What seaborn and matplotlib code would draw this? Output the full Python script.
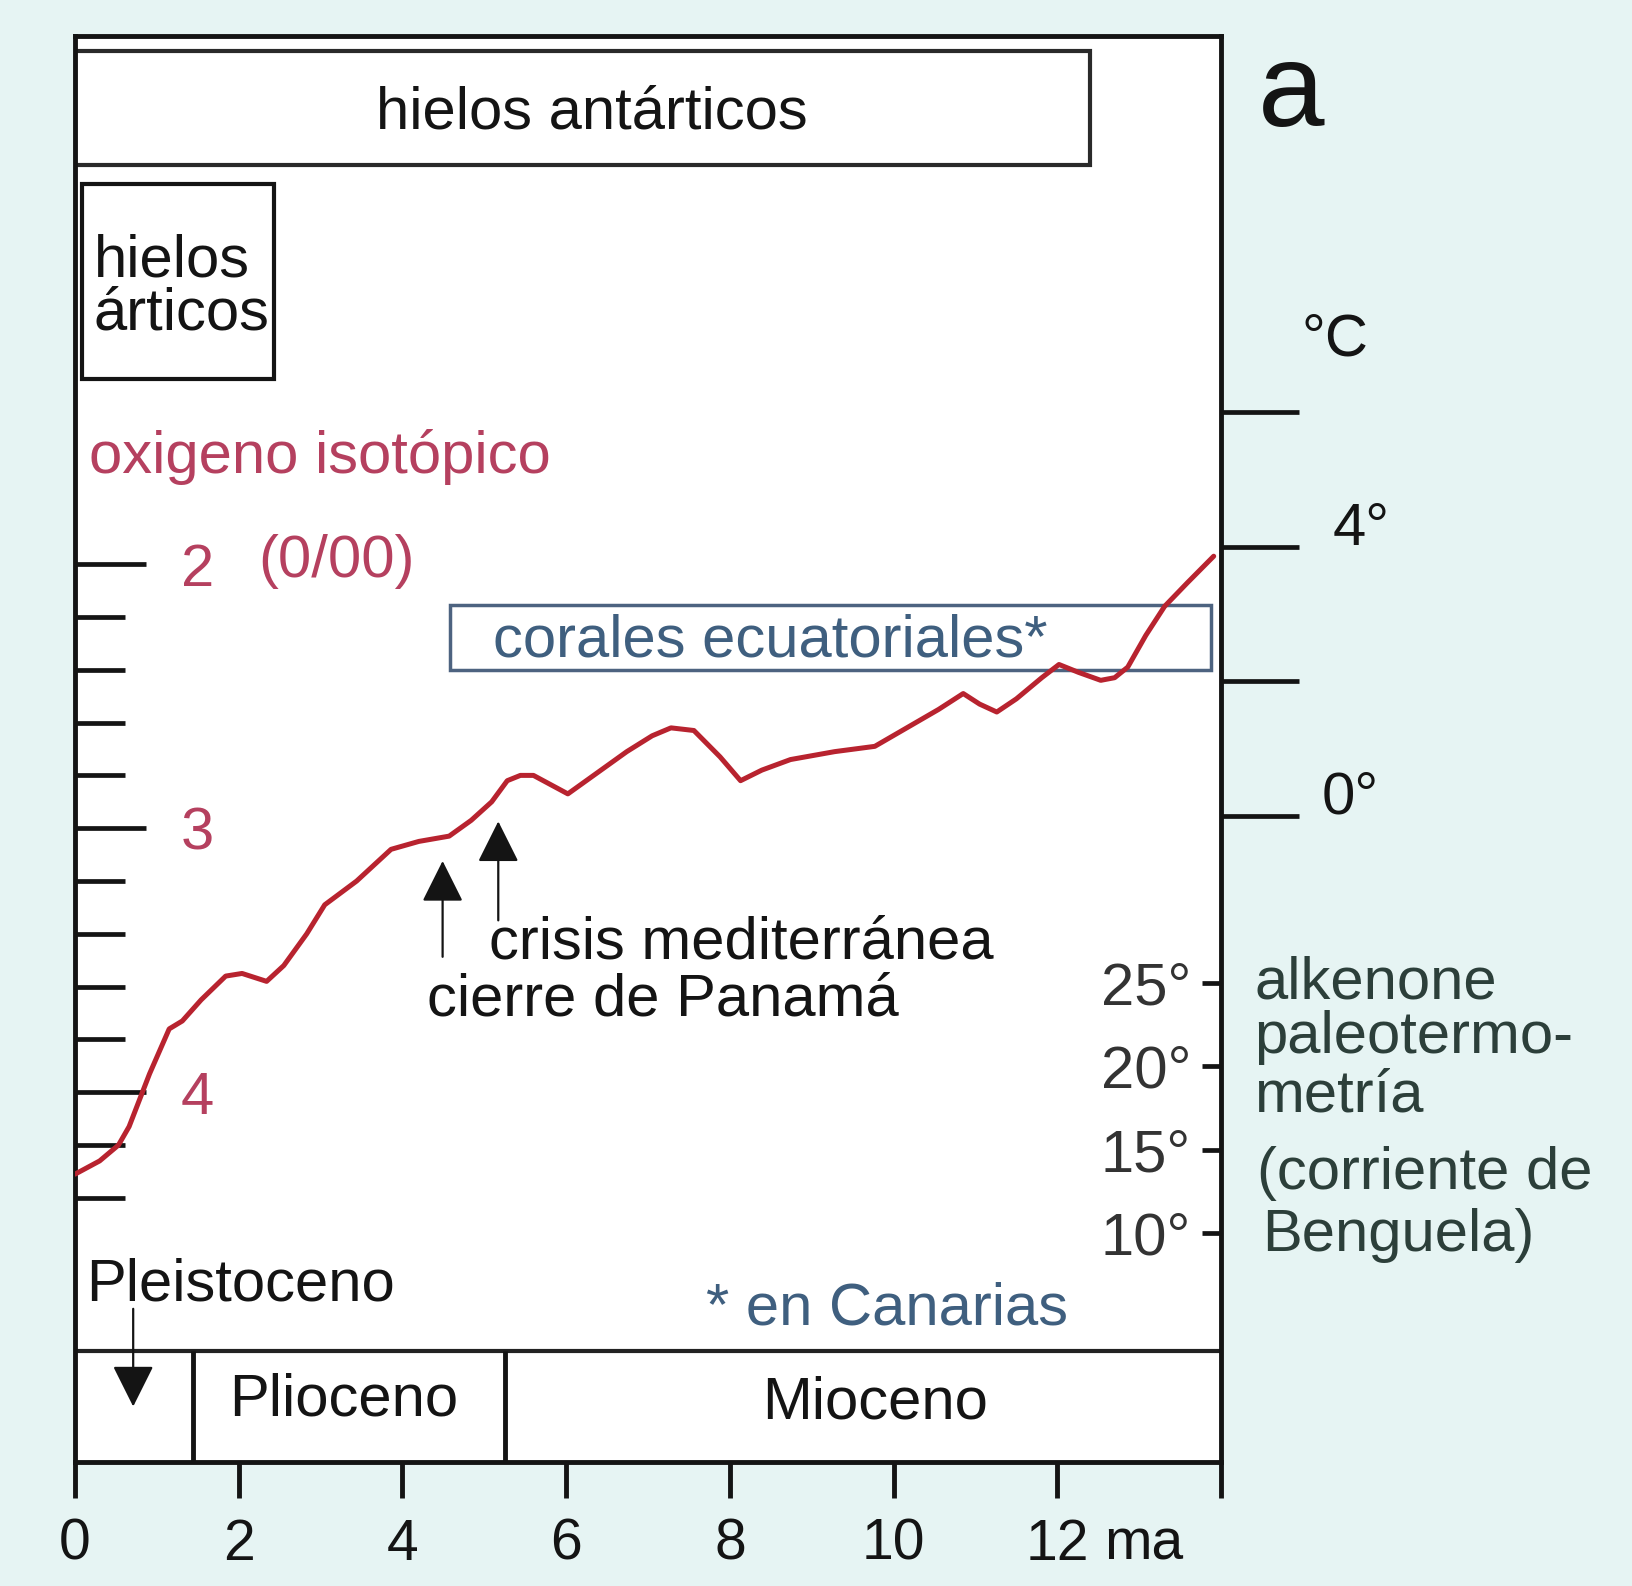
import matplotlib
matplotlib.use("Agg")
import matplotlib.pyplot as plt
import seaborn as sns
from matplotlib.patches import Rectangle

sns.set_style("white")
plt.rcParams['font.family'] = ['Liberation Sans', 'DejaVu Sans']
plt.rcParams['font.size'] = 43

RED_TXT = '#b5405f'
CURVE = '#b8232f'
BLUE = '#3f5f7f'
ALK = '#2c3f3a'
INK = '#141414'
BG = '#e6f4f3'

# oxygen isotope curve (age in Ma, per mil)
AGE_MA = [0.0, 0.30, 0.53, 0.66, 0.76, 0.91, 1.15, 1.31, 1.54, 1.84, 2.04, 2.34,
          2.55, 2.83, 3.05, 3.44, 3.86, 4.20, 4.57, 4.84, 5.09, 5.28, 5.44, 5.60,
          5.72, 6.02, 6.29, 6.74, 7.05, 7.28, 7.56, 7.88, 8.13, 8.39, 8.74, 9.28,
          9.77, 10.16, 10.55, 10.85, 11.05, 11.26, 11.50, 11.81, 12.02, 12.26,
          12.53, 12.70, 12.86, 13.08, 13.31, 13.59, 13.91]
D18O = [4.31, 4.26, 4.20, 4.13, 4.05, 3.93, 3.76, 3.73, 3.65, 3.56, 3.55, 3.58,
        3.52, 3.40, 3.29, 3.20, 3.08, 3.05, 3.03, 2.97, 2.90, 2.82, 2.80, 2.80,
        2.82, 2.87, 2.81, 2.71, 2.65, 2.62, 2.63, 2.73, 2.82, 2.78, 2.74, 2.71,
        2.69, 2.62, 2.55, 2.49, 2.53, 2.56, 2.51, 2.43, 2.38, 2.41,
        2.44, 2.43, 2.39, 2.27, 2.16, 2.07, 1.97]

X_TICKS = [0, 2, 4, 6, 8, 10, 12, 14]
X_LABELS = ['0', '2', '4', '6', '8', '10', '12', '']
D18O_MAJOR = [2, 3, 4]
D18O_MINOR = [2.2, 2.4, 2.6, 2.8, 3.2, 3.4, 3.6, 3.8, 4.2, 4.4]
C_TICKS = [0, 2, 4, 6]
C_LABELS = {4: '4°', 0: '0°'}
ALK_TICKS = [10, 15, 20, 25]

EPOCH_BOUNDS = [1.44, 5.25]   # Pleistoceno/Plioceno, Plioceno/Mioceno
EPOCH_NAMES = ['Plioceno', 'Mioceno']
EVENT_AGES = [4.49, 5.17]     # cierre de Panamá, crisis mediterránea
ALK_LINES = ['alkenone', 'paleotermo-', 'metría', '(corriente de', 'Benguela)']


def d_to_c(d):
    return (2.955 - d) / 0.2554


def c_to_d(c):
    return 2.955 - 0.2554 * c


def d_to_alk(d):
    return (5.164 - d) / 0.0631


def alk_to_d(t):
    return 5.164 - 0.0631 * t


fig = plt.figure(figsize=(16.32, 15.86), dpi=100, facecolor=BG)
ax = fig.add_axes([0.046, 0.0782, 0.7022, 0.8991])
ax.set_facecolor('white')

sns.lineplot(x=AGE_MA, y=D18O, sort=False, color=CURVE, linewidth=3.6, ax=ax, zorder=4)
ax.set_xlim(0, 14)
ax.set_ylim(5.4, 0)
ax.set_xlabel('')
ax.set_ylabel('')

for s in ax.spines.values():
    s.set_linewidth(3.5)
    s.set_color(INK)

# x axis (ma)
ax.set_xticks(X_TICKS, labels=X_LABELS)
ax.tick_params(axis='x', direction='out', length=26, width=3.5, pad=14,
               color=INK, labelcolor=INK, labelsize=41, bottom=True)
ax.annotate('ma', xy=(12.57, 0), xycoords=('data', 'axes fraction'),
            xytext=(0, -40), textcoords='offset points', va='top', ha='left',
            color=INK, fontsize=41)

# left axis: oxygen isotopes
ax.set_yticks(D18O_MAJOR, labels=[str(v) for v in D18O_MAJOR])
ax.set_yticks(D18O_MINOR, minor=True)
ax.tick_params(axis='y', which='major', direction='in', length=51, width=3.4,
               pad=-100, color=INK, labelcolor=RED_TXT, labelsize=43, left=True, right=False)
ax.tick_params(axis='y', which='minor', direction='in', length=36, width=3.4,
               color=INK, left=True, right=False)

# right axis: deg C
cax = ax.secondary_yaxis('right', functions=(d_to_c, c_to_d))
cax.set_yticks(C_TICKS, labels=['' for _ in C_TICKS])
cax.tick_params(axis='y', direction='out', length=56, width=3.4, color=INK)
cax.spines['right'].set_visible(False)

# right axis, inside: alkenone temperatures
alk = ax.secondary_yaxis('right', functions=(d_to_alk, alk_to_d))
alk.set_alignment('left')
alk.set_yticks(ALK_TICKS, labels=[f'{t}°' for t in ALK_TICKS])
alk.tick_params(axis='y', direction='out', length=13.5, width=3.4, pad=8,
                color=INK, labelcolor='#333333', labelsize=43)
alk.spines['left'].set_visible(False)

trans = ax.get_yaxis_transform()
ax.text(1.061, 0.339, 'a', transform=trans, fontsize=86, ha='center', va='baseline', color=INK)
ax.text(1.07, 1.15, '°C', transform=trans, va='center', color=INK)
ax.text(1.097, c_to_d(4) - 0.065, C_LABELS[4], transform=trans, va='center', color=INK)
ax.text(1.088, c_to_d(0) - 0.07, C_LABELS[0], transform=trans, va='center', color=INK)
for txt, xf, yd in zip(ALK_LINES, [1.029, 1.029, 1.029, 1.031, 1.036],
                       [3.645, 3.85, 4.071, 4.367, 4.60]):
    ax.text(xf, yd, txt, transform=trans, va='baseline', ha='left', color=ALK)

# ice boxes
ax.add_patch(Rectangle((0, 0.055), 12.4, 0.434, fill=False, lw=3, ec='#2a2a2a', zorder=2))
ax.text(6.31, 0.29, 'hielos antárticos', ha='center', va='center', color=INK)
ax.add_patch(Rectangle((0.08, 0.56), 2.35, 0.738, fill=False, lw=3, ec=INK, zorder=2))
ax.text(0.23, 0.91, 'hielos', va='baseline', color=INK)
ax.text(0.23, 1.11, 'árticos', va='baseline', color=INK)

ax.text(0.165, 1.655, 'oxigeno isotópico', va='baseline', color=RED_TXT)
ax.text(2.24, 1.99, '(0/00)', va='center', color=RED_TXT)

# equatorial corals
ax.add_patch(Rectangle((4.58, 2.154), 9.3, 0.248, fill=False, lw=2.5, ec='#4d6380', zorder=2))
ax.text(5.10, 2.29, 'corales ecuatoriales*', va='center', color=BLUE)
ax.text(7.71, 4.82, '* en Canarias', va='center', color=BLUE)

# events
arrow = dict(arrowstyle='-|>,head_length=1.3,head_width=0.65', mutation_scale=20,
             lw=1.6, color=INK, shrinkA=0, shrinkB=0)
ax.annotate('', xy=(EVENT_AGES[0], 3.124), xytext=(EVENT_AGES[0], 3.487), arrowprops=arrow)
ax.annotate('', xy=(EVENT_AGES[1], 2.974), xytext=(EVENT_AGES[1], 3.349), arrowprops=arrow)
ax.text(5.06, 3.495, 'crisis mediterránea', va='baseline', color=INK)
ax.text(4.30, 3.708, 'cierre de Panamá', va='baseline', color=INK)

# epochs band
ax.axhline(4.978, color='#222222', lw=3)
ax.vlines(EPOCH_BOUNDS, 4.978, 5.4, color=INK, lw=3.5)
ax.text(3.28, 5.164, EPOCH_NAMES[0], ha='center', va='center', color=INK)
ax.text(9.77, 5.175, EPOCH_NAMES[1], ha='center', va='center', color=INK)
ax.text(0.14, 4.789, 'Pleistoceno', va='baseline', color=INK)
ax.annotate('', xy=(0.71, 5.19), xytext=(0.71, 4.82), arrowprops=arrow)

fig.savefig('out.png', dpi=100, facecolor=BG)
